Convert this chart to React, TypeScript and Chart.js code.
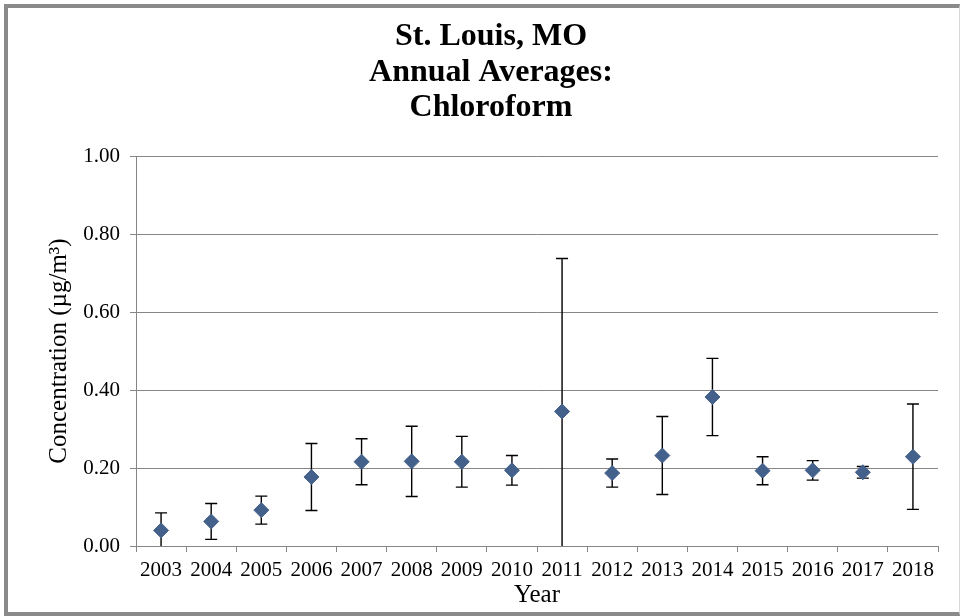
import { useRef, useEffect } from "react"
import { Chart, type ChartConfiguration, type Plugin, registerables } from "chart.js"

Chart.register(...registerables)

const years = ["2003", "2004", "2005", "2006", "2007", "2008", "2009", "2010", "2011", "2012", "2013", "2014", "2015", "2016", "2017", "2018"]
const averages = [0.04, 0.063, 0.092, 0.177, 0.216, 0.217, 0.216, 0.194, 0.345, 0.187, 0.232, 0.382, 0.193, 0.194, 0.189, 0.229]
// half-width of the 95% confidence interval
const errors = [0.045, 0.046, 0.036, 0.086, 0.059, 0.09, 0.065, 0.038, 0.392, 0.036, 0.1, 0.099, 0.036, 0.025, 0.015, 0.135]
const yTicks = [0, 0.2, 0.4, 0.6, 0.8, 1.0]

const FONT = "'Liberation Serif', 'Times New Roman', serif"
const GRID = "#868686"

const errorBars: Plugin<"line"> = {
  id: "errorBars",
  beforeDatasetsDraw(chart) {
    const { ctx, chartArea, scales } = chart
    const x = scales.x
    const y = scales.y
    ctx.save()
    ctx.beginPath()
    ctx.rect(chartArea.left, chartArea.top - 1, chartArea.right - chartArea.left, chartArea.bottom - chartArea.top + 1)
    ctx.clip()
    ctx.strokeStyle = "#000"
    ctx.lineWidth = 1.4
    averages.forEach((v, i) => {
      const px = x.getPixelForValue(i)
      const top = y.getPixelForValue(v + errors[i])
      const bot = y.getPixelForValue(v - errors[i])
      ctx.beginPath()
      ctx.moveTo(px, top)
      ctx.lineTo(px, bot)
      ctx.moveTo(px - 6, top)
      ctx.lineTo(px + 6, top)
      ctx.moveTo(px - 6, bot)
      ctx.lineTo(px + 6, bot)
      ctx.stroke()
    })
    ctx.restore()
  },
}

export default function App() {
  const canvasRef = useRef<HTMLCanvasElement>(null)
  const chartRef = useRef<Chart<"line"> | null>(null)

  useEffect(() => {
    if (!canvasRef.current) return
    if (chartRef.current) chartRef.current.destroy()

    const config: ChartConfiguration<"line"> = {
      type: "line",
      data: {
        labels: years,
        datasets: [
          {
            label: "Chloroform",
            data: averages,
            showLine: false,
            pointStyle: "rectRot",
            pointRadius: 7.5,
            pointHoverRadius: 7.5,
            pointBackgroundColor: "#44618B",
            pointBorderColor: "#44618B",
            pointBorderWidth: 1,
          },
        ],
      },
      options: {
        animation: false,
        responsive: true,
        maintainAspectRatio: false,
        layout: { padding: { left: 36, right: 21, top: 0, bottom: 0 } },
        plugins: {
          legend: { display: false },
          tooltip: { enabled: false },
          title: {
            display: true,
            text: ["St. Louis, MO", "Annual Averages:", "Chloroform"],
            color: "#000",
            font: { family: FONT, size: 32, weight: "bold", lineHeight: 35.5 / 32 },
            padding: { top: 11, bottom: 30.5 },
          },
        },
        scales: {
          x: {
            type: "category",
            offset: true,
            afterFit: (scale) => {
              scale.height = 66
            },
            grid: {
              offset: true,
              drawOnChartArea: false,
              drawTicks: true,
              tickLength: 6,
              color: GRID,
            },
            border: { display: true, color: GRID },
            ticks: {
              color: "#000",
              padding: 6,
              maxRotation: 0,
              autoSkip: false,
              font: { family: FONT, size: 21 },
            },
            title: {
              display: true,
              text: "Year",
              color: "#000",
              font: { family: FONT, size: 25, lineHeight: 1.2 },
              padding: { top: 0, bottom: 2 },
            },
          },
          y: {
            min: 0,
            max: 1,
            afterFit: (scale) => {
              scale.width = 92
            },
            afterBuildTicks: (scale) => {
              scale.ticks = yTicks.map((value) => ({ value }))
            },
            grid: {
              color: GRID,
              tickLength: 6,
            },
            border: { display: true, color: GRID },
            ticks: {
              color: "#000",
              padding: 10,
              font: { family: FONT, size: 21 },
              callback: (v) => Number(v).toFixed(2),
            },
            title: {
              display: true,
              text: "Concentration (µg/m³)",
              color: "#000",
              font: { family: FONT, size: 25, lineHeight: 1.2 },
              padding: { top: 0, bottom: 0 },
            },
          },
        },
      },
      plugins: [errorBars],
    }

    chartRef.current = new Chart(canvasRef.current, config)

    return () => {
      if (chartRef.current) {
        chartRef.current.destroy()
        chartRef.current = null
      }
    }
  }, [])

  return (
    <div style={{ position: "fixed", left: 0, top: 0, width: 963, height: 616, background: "#fff", overflow: "hidden" }}>
      <div
        style={{
          position: "absolute",
          left: 4,
          top: 4,
          width: 951,
          height: 604,
          borderLeft: "4px solid #8a8a8a",
          borderTop: "4px solid #8a8a8a",
          borderBottom: "4px solid #8a8a8a",
          borderRight: "1px solid #d8d8d8",
        }}
      >
        <div style={{ position: "relative", width: 951, height: 604 }}>
          <canvas ref={canvasRef} />
        </div>
      </div>
    </div>
  )
}
